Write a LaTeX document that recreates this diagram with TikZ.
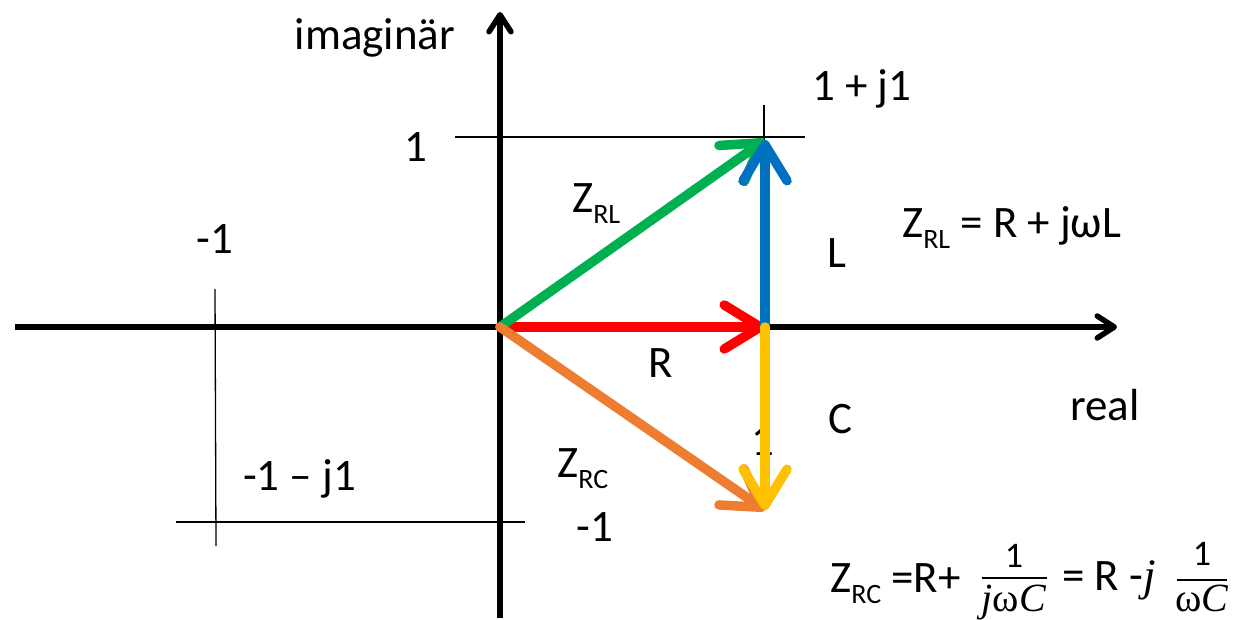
\documentclass[tikz,border=0pt]{standalone}
\usepackage{fontspec}
\setmainfont{Carlito}
\newfontfamily\serifm{Liberation Serif}
\usetikzlibrary{arrows.meta}
\newcommand\Zs[1]{Z\raisebox{-11pt}{\fontsize{28}{30}\selectfont #1}}
\definecolor{cgreen}{HTML}{00B050}
\definecolor{cred}{HTML}{FF0000}
\definecolor{cblue}{HTML}{0070C0}
\definecolor{cyellow}{HTML}{FFC000}
\definecolor{corange}{HTML}{ED7D31}
\begin{document}
\begin{tikzpicture}[x=1pt,y=-1pt,
  every node/.style={inner sep=0pt,font=\fontsize{45}{54}\selectfont},
  lbl/.style={anchor=base},
  vec/.style={line width=9.5pt,line cap=round,-{Straight Barb[length=36pt,width=44pt,round]}},
  axis/.style={line width=5.5pt,-{Straight Barb[length=17pt,width=22pt,round]}},
  grid/.style={line width=1.3pt},
  fracnum/.style={anchor=base,font=\fontsize{36}{40}\selectfont},
  fracden/.style={anchor=base,font=\fontsize{40}{44}\selectfont\serifm}]
\useasboundingbox (0,0) rectangle (1236,620);
% coordinates
\coordinate (O) at (500,327);
\coordinate (A) at (765,327);
\coordinate (P) at (765,140);
\coordinate (Q) at (765,510);
\coordinate (xl) at (15,327);
\coordinate (xr) at (1117,327);
\coordinate (yb) at (500,618);
\coordinate (yt) at (500,12);
% grid lines
\draw[grid] (455,137) -- (805,137);
\draw[grid] (764,105) -- (764,140);
\draw[grid] (176,522) -- (525,522);
\draw[grid] (215,289) -- (216,546);
% axes
\draw[axis] (xl) -- (xr);
\draw[axis] (yb) -- (yt);
% labels
\node[lbl] (lim) at (375,50) {imagin\"ar};
\node[lbl,anchor=base west] (l1j1) at (812,101) {1 + j1};
\node[lbl] (lone) at (416,162) {1};
\node[lbl,anchor=base west] (lzrl) at (572,213) {\Zs{RL}};
\node[lbl] (lm1) at (215,254) {-1};
\node[lbl] (lL) at (837,268) {L};
\node[lbl,anchor=base west] (fzrl) at (902,238) {\Zs{RL} = R + j\symbol{"03C9}L};
\node[lbl] (lR) at (661,377) {R};
\node[lbl] (lC) at (840,433) {C};
\node[lbl] (lreal) at (1105,420) {real};
\node[lbl] (lhid) at (763,455) {1};
\node[lbl,anchor=base west] (lm1j1) at (243,490) {-1 \textendash\ j1};
\node[lbl,anchor=base west] (lzrc) at (557,477) {\Zs{RC}};
\node[lbl] (lm1b) at (595,541) {-1};
% vectors
\draw[vec,cred] (O) -- (A);
\draw[vec,cgreen] (O) -- (P);
\draw[vec,corange] (O) -- (Q);
\draw[vec,cblue] (A) -- (P);
\draw[vec,cyellow] (A) -- (Q);
% bottom formula
\node[lbl,anchor=base west] (fzrc) at (830,592) {\Zs{RC} =R+};
\draw[line width=2.5pt] (982,578) -- (1047,578);
\node[fracnum] (n1) at (1014,567) {1};
\node[fracden] (d1) at (1014,611) {\textit{j}\symbol{"03C9}\textit{C}};
\node[lbl,anchor=base west] (feq) at (1062,590) {= R -{\serifm\textit{j}}};
\draw[line width=2.5pt] (1177,580) -- (1227,580);
\node[fracnum] (n2) at (1202,565) {1};
\node[fracden] (d2) at (1202,611) {\symbol{"03C9}\textit{C}};
\end{tikzpicture}
\end{document}
